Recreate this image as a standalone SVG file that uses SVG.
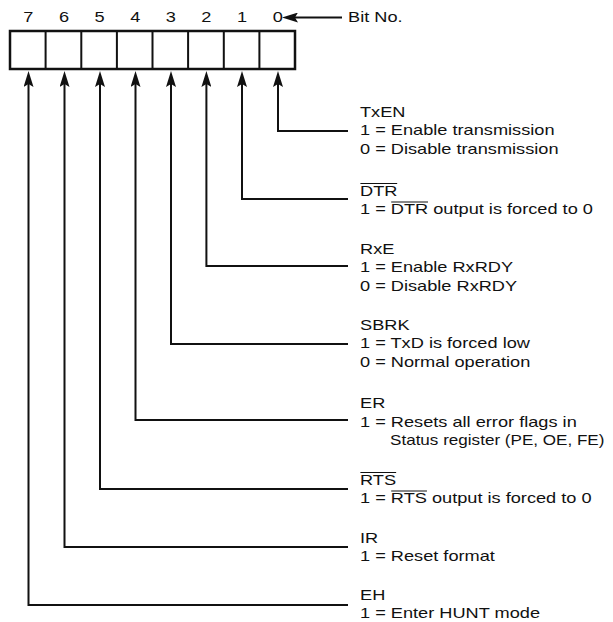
<svg xmlns="http://www.w3.org/2000/svg" width="613" height="622" viewBox="0 0 613 622">
<style>
text{font-family:"Liberation Sans",Arial,sans-serif;font-size:14px;fill:#111}
.dg{text-anchor:middle}
.cell{fill:none;stroke:#111;stroke-width:2}
.outer{fill:#fff;stroke:#111;stroke-width:2.5}
.con{fill:none;stroke:#111;stroke-width:2}
.ob{stroke:#111;stroke-width:1.2}
</style>
<defs>
<marker id="ah" viewBox="0 0 16 10" refX="8" refY="5" markerWidth="16" markerHeight="10" markerUnits="userSpaceOnUse" orient="auto">
<path d="M0,0 L16,5 L0,10 L3,5 Z" fill="#111"/>
</marker>
</defs>
<rect width="613" height="622" fill="#fff"/>

<g id="register">
<rect class="outer" x="10" y="31" width="285" height="38"/>
<path class="cell" d="M45.6,31V69M81.3,31V69M116.9,31V69M152.5,31V69M188.1,31V69M223.8,31V69M259.4,31V69"/>
<text class="dg" transform="translate(28.3 22) scale(1.3 1)">7</text>
<text class="dg" transform="translate(64 22) scale(1.3 1)">6</text>
<text class="dg" transform="translate(99.6 22) scale(1.3 1)">5</text>
<text class="dg" transform="translate(135.2 22) scale(1.3 1)">4</text>
<text class="dg" transform="translate(170.8 22) scale(1.3 1)">3</text>
<text class="dg" transform="translate(206.4 22) scale(1.3 1)">2</text>
<text class="dg" transform="translate(242.1 22) scale(1.3 1)">1</text>
<text class="dg" transform="translate(277.7 22) scale(1.3 1)">0</text>
</g>

<g id="bitno">
<text transform="translate(348 22) scale(1.3 1)">Bit No.</text>
</g>

<g id="connectors">
<path class="con" marker-end="url(#ah)" d="M342,17.5H290"/>
<path class="con" marker-end="url(#ah)" d="M348,131H278V79"/>
<path class="con" marker-end="url(#ah)" d="M348,199H242V79"/>
<path class="con" marker-end="url(#ah)" d="M348,266H206.4V79"/>
<path class="con" marker-end="url(#ah)" d="M348,344H171V79"/>
<path class="con" marker-end="url(#ah)" d="M348,420H135.5V79"/>
<path class="con" marker-end="url(#ah)" d="M348,489H100V79"/>
<path class="con" marker-end="url(#ah)" d="M348,547H64.5V79"/>
<path class="con" marker-end="url(#ah)" d="M348,605H28.5V79"/>
</g>

<g id="field-txen" transform="translate(360 0) scale(1.3 1)">
<text x="0" y="117">TxEN</text>
<text x="0" y="135.5">1 = Enable transmission</text>
<text x="0" y="154">0 = Disable transmission</text>
</g>

<g id="field-dtr" transform="translate(360 0) scale(1.3 1)">
<text x="0" y="196">DTR</text>
<line class="ob" x1="0.3" y1="183.5" x2="28.6" y2="183.5"/>
<text x="0" y="214.5">1 = DTR output is forced to 0</text>
<line class="ob" x1="24" y1="202" x2="52.3" y2="202"/>
</g>

<g id="field-rxe" transform="translate(360 0) scale(1.3 1)">
<text x="0" y="254">RxE</text>
<text x="0" y="272.5">1 = Enable RxRDY</text>
<text x="0" y="291">0 = Disable RxRDY</text>
</g>

<g id="field-sbrk" transform="translate(360 0) scale(1.3 1)">
<text x="0" y="330">SBRK</text>
<text x="0" y="348.5">1 = TxD is forced low</text>
<text x="0" y="367">0 = Normal operation</text>
</g>

<g id="field-er">
<text transform="translate(360 408) scale(1.3 1)">ER</text>
<text transform="translate(360 426.5) scale(1.3 1)">1 = Resets all error flags in</text>
<text transform="translate(390 445) scale(1.22 1)">Status register (PE, OE, FE)</text>
</g>

<g id="field-rts" transform="translate(360 0) scale(1.3 1)">
<text x="0" y="485">RTS</text>
<line class="ob" x1="0.3" y1="472.5" x2="27.8" y2="472.5"/>
<text x="0" y="503.5">1 = RTS output is forced to 0</text>
<line class="ob" x1="24" y1="491" x2="51.5" y2="491"/>
</g>

<g id="field-ir" transform="translate(360 0) scale(1.3 1)">
<text x="0" y="543">IR</text>
<text x="0" y="561.5">1 = Reset format</text>
</g>

<g id="field-eh" transform="translate(360 0) scale(1.3 1)">
<text x="0" y="600">EH</text>
<text x="0" y="618">1 = Enter HUNT mode</text>
</g>
</svg>
